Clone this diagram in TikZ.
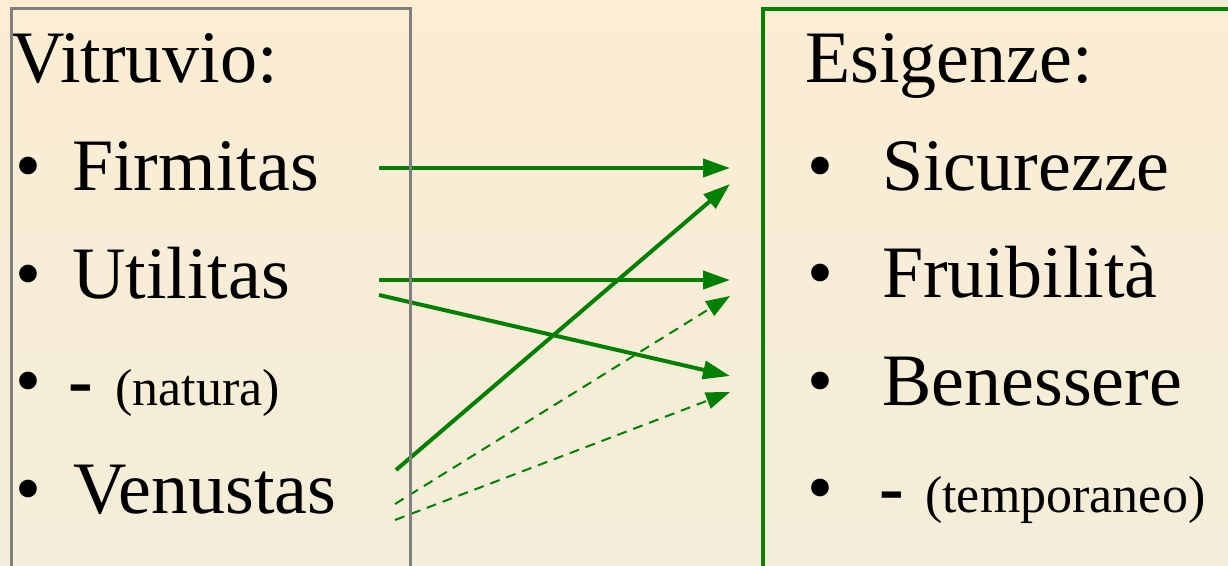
\documentclass[tikz,border=0pt]{standalone}
\usepackage{fontspec}
\setmainfont{Liberation Serif}
\usetikzlibrary{arrows.meta}
\definecolor{verde}{HTML}{008000}
\definecolor{grigio}{HTML}{808080}
\definecolor{crema}{HTML}{FCEDD3}
\definecolor{cremab}{HTML}{F3EDD9}

\begin{document}
\begin{tikzpicture}[x=1pt, y=-1pt,
      t/.style={anchor=base west, inner sep=0pt, font=\fontsize{74}{80}\selectfont},
      s/.style={anchor=base west, inner sep=0pt, font=\fontsize{52}{60}\selectfont},
      fr/.style={draw=verde, line width=4pt, -{Triangle[length=27pt, width=18pt]}},
      tr/.style={draw=verde, line width=2pt, dash pattern=on 10pt off 7pt,
                 -{Triangle[length=24pt, width=17pt]}}]
    \useasboundingbox (0,0) rectangle (1228,565);
    \shade[top color=crema, bottom color=cremab] (0,0) rectangle (1228,565);
    % Vitruvio
    \node[t] (vitr) at (11,82) {Vitruvio:};
    \foreach \y in {190,298,405,513}
      \node[t] (bv\y) at (15,\y) {\textbullet};
    \node[t] (firm) at (72,190) {Firmitas};
    \node[t] (util) at (72,298) {Utilitas};
    \node[t] (natd) at (68,405) {\textbf{-}};
    \node[s] (nat) at (115,405) {(natura)};
    \node[t] (venu) at (73,513) {Venustas};
    % Esigenze
    \node[t] (esig) at (805,82) {Esigenze:};
    \foreach \y in {190,297,405,512}
      \node[t] (be\y) at (807,\y) {\textbullet};
    \node[t] (sicu) at (882,190) {Sicurezze};
    \node[t] (frui) at (882,297) {Fruibilità};
    \node[t] (bene) at (882,405) {Benessere};
    \node[t] (tempd) at (879,512) {\textbf{-}};
    \node[s] (temp) at (925,512) {(temporaneo)};
    % punti di attacco delle frecce
    \coordinate (firm-o) at (379,168);
    \coordinate (util-o) at (379,280);
    \coordinate (util-o2) at (379,295);
    \coordinate (venu-o) at (396,470);
    \coordinate (venu-o2) at (395,504);
    \coordinate (venu-o3) at (395,520);
    \coordinate (sicu-i) at (730,168);
    \coordinate (sicu-i2) at (730,184);
    \coordinate (frui-i) at (730,280);
    \coordinate (frui-i2) at (730,296);
    \coordinate (bene-i) at (730,376);
    \coordinate (bene-i2) at (730,392);
    \draw[fr] (firm-o) -- (sicu-i);
    \draw[fr] (venu-o) -- (sicu-i2);
    \draw[fr] (util-o) -- (frui-i);
    \draw[fr] (util-o2) -- (bene-i);
    \draw[tr] (venu-o2) -- (frui-i2);
    \draw[tr] (venu-o3) -- (bene-i2);
    % riquadri
    \draw[grigio, line width=3pt] (11,8) rectangle (410,580);
    \draw[verde, line width=3.5pt] (763,9) rectangle (1245,580);
  \end{tikzpicture}
\end{document}
